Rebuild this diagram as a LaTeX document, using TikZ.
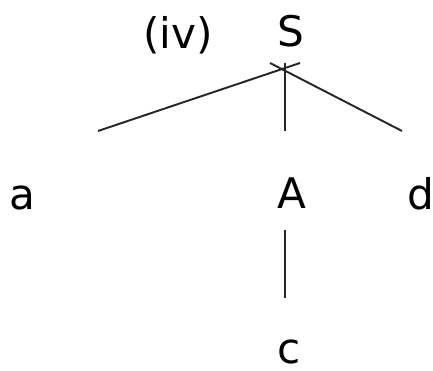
\documentclass[tikz,border=0pt]{standalone}
\usepackage{fontspec}
\setmainfont{DejaVu Sans}
\usetikzlibrary{positioning}

\begin{document}
\begin{tikzpicture}[
    sym/.style={inner sep=0pt, anchor=base,
      font=\fontsize{24}{28}\selectfont},
    edge/.style={line width=1.1pt, draw=black!85},
  ]
  \useasboundingbox (0,0) rectangle (8.66,7.42);

  % --- root and label ---
  \node[sym] (S) at (5.82, 6.48) {S};
  \node[sym] (lbl) at (3.56, 6.44) {(iv)};

  % --- children ---
  \node[sym] (a) at (0.44, 3.22) {a};
  \node[sym] (A) at (5.84, 3.24) {A};
  \node[sym] (d) at (8.42, 3.22) {d};

  % --- grandchild ---
  \node[sym] (c) at (5.78, 0.14) {c};

  % line ends
  \coordinate (top)  at (5.70, 6.16);
  \coordinate (topL) at (6.00, 6.16);
  \coordinate (topR) at (5.40, 6.16);
  \coordinate (ea) at (1.96, 4.80);
  \coordinate (eA) at (5.70, 4.80);
  \coordinate (ed) at (8.04, 4.80);
  \coordinate (Abot) at (5.70, 2.82);
  \coordinate (ctop) at (5.70, 1.46);

  \draw[edge] (topL) -- (ea);
  \draw[edge] (top) -- (eA);
  \draw[edge] (topR) -- (ed);
  \draw[edge] (Abot) -- (ctop);

\end{tikzpicture}
\end{document}
